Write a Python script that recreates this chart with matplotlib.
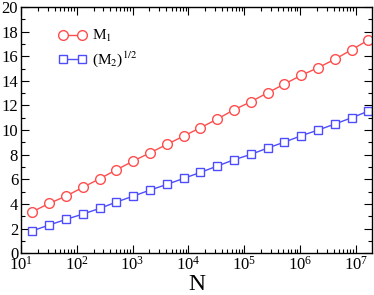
import numpy as np
import matplotlib
matplotlib.use("Agg")
import matplotlib.pyplot as plt
from matplotlib.ticker import MultipleLocator, LogLocator, NullFormatter

plt.rcParams['font.family'] = ['Liberation Serif', 'DejaVu Serif']
plt.rcParams['mathtext.fontset'] = 'stix'

# system sizes N = 2^4 ... 2^24
N = [2**k for k in range(4, 25)]
m1 = [3.36, 4.04, 4.63, 5.34, 6.04, 6.77, 7.48, 8.15, 8.83, 9.51, 10.19,
      10.89, 11.65, 12.30, 13.03, 13.74, 14.45, 15.07, 15.75, 16.53, 17.32]
m2_sqrt = [1.81, 2.28, 2.74, 3.17, 3.63, 4.15, 4.63, 5.12, 5.58, 6.07, 6.56,
           7.07, 7.59, 8.02, 8.54, 9.02, 9.54, 10.00, 10.49, 11.00, 11.54]

fig = plt.figure(figsize=(3.74, 2.95), dpi=100)
ax = fig.add_axes([0.056, 0.142, 0.939, 0.834])

red = '#ff4d4d'
blue = '#4d4dff'
ax.plot(N, m1, '-o', color=red, lw=1, ms=7, mfc='white', mec=red, mew=1,
        label=r'M$_1$')
ax.plot(N, m2_sqrt, '-s', color=blue, lw=1, ms=6, mfc='white', mec=blue, mew=1,
        label=r'(M$_2$)$^{1/2}$')

ax.set_xscale('log')
ax.set_xlim(10, 1.96e7)
ax.set_ylim(0, 20)
ax.yaxis.set_major_locator(MultipleLocator(2))
ax.yaxis.set_minor_locator(MultipleLocator(1))
ax.xaxis.set_major_locator(LogLocator(base=10, numticks=20))
ax.xaxis.set_minor_locator(LogLocator(base=10, subs=np.arange(2, 10), numticks=20))
ax.xaxis.set_minor_formatter(NullFormatter())

ax.tick_params(which='both', direction='in', top=True, right=True,
               labelsize=12, pad=2)
ax.tick_params(which='major', length=6, width=0.8)
ax.tick_params(which='minor', length=3, width=0.8)
for s in ax.spines.values():
    s.set_linewidth(1)

ax.set_xlabel('N', fontsize=17, labelpad=0)

ax.legend(loc='upper left', bbox_to_anchor=(0.088, 0.94), frameon=False,
          numpoints=2, fontsize=11, handlelength=1.9, handletextpad=0.3,
          labelspacing=0.35, borderaxespad=0)

fig.savefig('out.png', dpi=100)
